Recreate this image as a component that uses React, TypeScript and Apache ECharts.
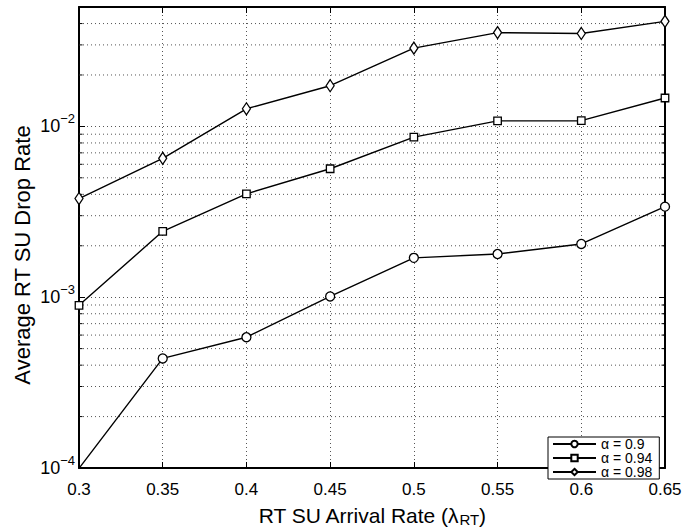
import React, { useEffect, useRef } from "react";
import * as echarts from "echarts";

// ---------- data ----------
const xValues = [0.3, 0.35, 0.4, 0.45, 0.5, 0.55, 0.6, 0.65];
const alpha090 = [0.0000995, 0.000438, 0.000583, 0.00101, 0.0017, 0.00179, 0.00205, 0.00339];
const alpha094 = [0.000896, 0.00243, 0.00403, 0.00565, 0.00865, 0.01077, 0.0108, 0.01466];
const alpha098 = [0.00378, 0.0065, 0.01268, 0.0173, 0.0287, 0.0354, 0.035, 0.0412];
const seriesNames = ["α = 0.9", "α = 0.94", "α = 0.98"];
const seriesValues = [alpha090, alpha094, alpha098];
const seriesSymbols = ["circle", "rect", "diamond"];
const xMin = 0.3;
const xMax = 0.65;
const xInterval = 0.05;
const yMin = 0.0001;
const yMax = 0.05;
// minor (log) grid / tick positions
const minorTickValues = [
  0.0002, 0.0003, 0.0004, 0.0005, 0.0006, 0.0007, 0.0008, 0.0009,
  0.002, 0.003, 0.004, 0.005, 0.006, 0.007, 0.008, 0.009,
  0.02, 0.03, 0.04,
];
const xTitle = "RT SU Arrival Rate (λ";
const xTitleSub = "RT";
const yTitle = "Average RT SU Drop Rate";

const FONT = "'Liberation Sans', Arial, Helvetica, sans-serif";
const symbolSizes: any[] = [9, 7.5, [8, 12]];

export default function App() {
  const ref = useRef<HTMLDivElement>(null);
  useEffect(() => {
    if (!ref.current) return;
    const chart = echarts.init(ref.current, undefined, { renderer: "svg" });
    const axisLine = { show: true, onZero: false, lineStyle: { color: "#000", width: 2 } };
    const dotted = { color: "#555", width: 1, type: [1, 3] as any };
    const option: any = {
      animation: false,
      backgroundColor: "#fff",
      textStyle: { fontFamily: FONT },
      grid: { left: 79, top: 7, width: 586, height: 473, containLabel: false },
      graphic: [
        {
          type: "text",
          x: 22,
          y: 255,
          rotation: Math.PI / 2,
          style: {
            text: yTitle,
            fontSize: 22,
            fontFamily: FONT,
            fill: "#000",
            align: "center",
            verticalAlign: "middle",
          },
        },
      ],
      legend: {
        left: 548,
        top: 437,
        orient: "vertical",
        data: seriesNames,
        itemWidth: 43,
        itemHeight: 8,
        itemGap: 0,
        padding: [0, 7, 0, 4],
        borderColor: "#000",
        borderWidth: 1,
        backgroundColor: "#fff",
        z: 10,
        textStyle: { color: "#000", fontSize: 14, fontFamily: FONT, lineHeight: 12 },
      },
      xAxis: [
        {
          type: "value",
          position: "bottom",
          min: xMin,
          max: xMax,
          interval: xInterval,
          axisLine,
          axisTick: { inside: true, length: 6, lineStyle: { color: "#000", width: 1 } },
          axisLabel: { color: "#000", fontSize: 17, margin: 13, fontFamily: FONT },
          splitLine: { show: true, lineStyle: dotted },
          name: `{t|${xTitle}}{s|${xTitleSub}}{t|)}`,
          nameLocation: "middle",
          nameGap: 35,
          nameTextStyle: {
            rich: {
              t: { fontSize: 21, color: "#000", fontFamily: FONT },
              s: { fontSize: 15, color: "#000", fontFamily: FONT, padding: [9, 0, 0, 0] },
            },
          },
        },
        {
          type: "value",
          position: "top",
          min: xMin,
          max: xMax,
          interval: xInterval,
          axisLine,
          axisTick: { inside: true, length: 6, lineStyle: { color: "#000", width: 1 } },
          axisLabel: { show: false },
          splitLine: { show: false },
        },
      ],
      yAxis: [
        {
          type: "log",
          logBase: 10,
          position: "left",
          min: yMin,
          max: yMax,
          axisLine,
          axisTick: { inside: true, length: 6, lineStyle: { color: "#000", width: 1 } },
          axisLabel: {
            margin: 4,
            showMaxLabel: false,
            formatter: (v: number) => {
              const e = Math.round(Math.log10(v));
              if (Math.abs(v - Math.pow(10, e)) / v > 1e-6) return "";
              return `{b|10}{s|${e < 0 ? "−" : ""}${Math.abs(e)}}`;
            },
            rich: {
              b: { fontSize: 18, color: "#000", fontFamily: FONT },
              s: { fontSize: 13, color: "#000", fontFamily: FONT, padding: [0, 0, 16, 0] },
            },
          },
          splitLine: { show: true, lineStyle: dotted },
        },
        {
          type: "log",
          logBase: 10,
          position: "right",
          min: yMin,
          max: yMax,
          axisLine,
          axisTick: { inside: true, length: 6, lineStyle: { color: "#000", width: 1 } },
          axisLabel: { show: false },
          splitLine: { show: false },
        },
      ],
      series: [
        {
          type: "custom",
          name: "minorGrid",
          silent: true,
          z: 1,
          xAxisIndex: 0,
          yAxisIndex: 0,
          data: minorTickValues.map((v) => [xMin, v]),
          encode: { x: 0, y: 1 },
          clip: false,
          renderItem: (params: any, api: any) => {
            const cs = params.coordSys;
            const y = api.coord([api.value(0), api.value(1)])[1];
            return {
              type: "group",
              children: [
                {
                  type: "line",
                  shape: { x1: cs.x, y1: y, x2: cs.x + cs.width, y2: y },
                  style: { stroke: "#555", lineWidth: 1, lineDash: [1, 3] },
                },
                {
                  type: "line",
                  shape: { x1: cs.x, y1: y, x2: cs.x + 3.5, y2: y },
                  style: { stroke: "#000", lineWidth: 1 },
                },
                {
                  type: "line",
                  shape: { x1: cs.x + cs.width - 3.5, y1: y, x2: cs.x + cs.width, y2: y },
                  style: { stroke: "#000", lineWidth: 1 },
                },
              ],
            };
          },
        },
        ...seriesNames.map((name, i) => ({
          type: "line",
          name,
          z: 3,
          xAxisIndex: 0,
          yAxisIndex: 0,
          data: xValues.map((x, j) => [x, seriesValues[i][j]]),
          symbol: seriesSymbols[i],
          symbolSize: symbolSizes[i],
          showSymbol: true,
          clip: true,
          lineStyle: { color: "#000", width: 1.4 },
          itemStyle: { color: "#fff", borderColor: "#000", borderWidth: 1.3 },
        })),
      ],
    };
    chart.setOption(option);
    return () => chart.dispose();
  }, []);
  return (
    <div
      ref={ref}
      style={{ position: "fixed", left: 0, top: 0, width: 697, height: 532, background: "#fff" }}
    />
  );
}
